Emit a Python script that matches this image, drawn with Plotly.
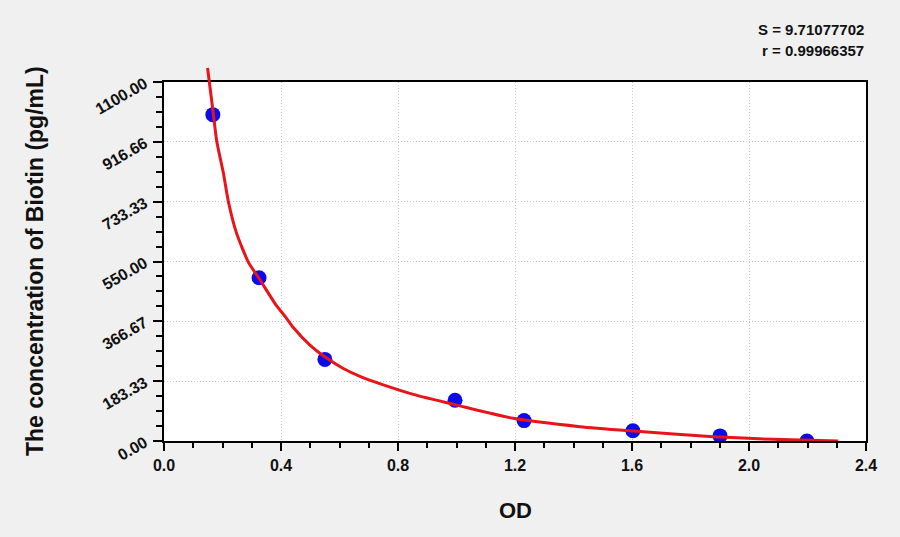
import plotly.graph_objects as go

# standard points (OD vs concentration)
od = [0.167, 0.325, 0.55, 0.995, 1.231, 1.603, 1.901, 2.198]
conc = [1000, 500, 250, 125, 62.5, 31.25, 15.63, 0]

# fitted curve
curve_od = [0.149, 0.169, 0.180, 0.203, 0.220, 0.248, 0.288, 0.328, 0.379, 0.419,
            0.442, 0.499, 0.556, 0.613, 0.670, 0.750, 0.852, 1.001, 1.194, 1.422,
            1.605, 1.878, 2.083, 2.305]
curve_conc = [1143, 1000, 920, 821, 734, 637, 549, 494, 422, 376,
              348, 294, 254, 222, 198, 172, 143, 110, 69.5, 44,
              30.7, 13.3, 5, 0]

y_ticks = [0, 183.33, 366.67, 550, 733.33, 916.66, 1100]
y_labels = ["0.00", "183.33", "366.67", "550.00", "733.33", "916.66", "1100.00"]
x_ticks = [0, 0.4, 0.8, 1.2, 1.6, 2.0, 2.4]
x_labels = ["0.0", "0.4", "0.8", "1.2", "1.6", "2.0", "2.4"]

stats = ["S = 9.71077702", "r = 0.99966357"]

FONT = "Liberation Sans, Arial, sans-serif"
frac = 359 / 379  # frame height inside the drawing area

fig = go.Figure()
fig.add_trace(go.Scatter(x=od, y=conc, mode="markers",
                         marker=dict(color="#0c0ce8", size=15),
                         xaxis="x", yaxis="y", showlegend=False))
# curve on a taller twin axis so it may run above the frame
fig.add_trace(go.Scatter(x=curve_od, y=curve_conc, mode="lines",
                         line=dict(color="#e8141a", width=3, shape="spline", smoothing=0.6),
                         xaxis="x2", yaxis="y2", showlegend=False))

tick_font = dict(family=FONT, size=16, color="#111111", weight="bold")

fig.update_layout(
    width=900, height=537,
    margin=dict(l=164, r=34, t=62, b=96),
    paper_bgcolor="#f0f0f0",
    plot_bgcolor="rgba(0,0,0,0)",
    xaxis=dict(range=[0, 2.4], domain=[0, 1], anchor="y",
               tickmode="array", tickvals=x_ticks, ticktext=x_labels,
               ticks="outside", ticklen=8, tickwidth=1.5, tickcolor="black",
               minor=dict(tickmode="linear", tick0=0, dtick=0.1, ticks="outside",
                          ticklen=5, tickwidth=1.5, tickcolor="black", showgrid=False),
               showline=True, linecolor="black", linewidth=2, mirror=True,
               showgrid=True, gridcolor="#c8c8c8", griddash="1px,2px", gridwidth=1,
               zeroline=False, tickfont=tick_font, ticklabelstandoff=1),
    yaxis=dict(range=[0, 1100], domain=[0, frac], anchor="x",
               tickmode="array", tickvals=y_ticks, ticktext=y_labels,
               ticks="outside", ticklen=9, tickwidth=1.5, tickcolor="black",
               minor=dict(tickmode="linear", tick0=0, dtick=1100 / 24, ticks="outside",
                          ticklen=6, tickwidth=1.5, tickcolor="black", showgrid=False),
               showline=True, linecolor="black", linewidth=2, mirror=True,
               showgrid=True, gridcolor="#c8c8c8", griddash="1px,2px", gridwidth=1,
               zeroline=False, tickangle=-30, tickfont=tick_font, ticklabelstandoff=5),
    xaxis2=dict(range=[0, 2.4], domain=[0, 1], anchor="y2", visible=False),
    yaxis2=dict(range=[0, 1100 / frac], domain=[0, 1], anchor="x2", visible=False),
    shapes=[dict(type="rect", xref="x", yref="y", x0=0, x1=2.4, y0=0, y1=1100,
                 fillcolor="white", line=dict(width=0), layer="below")],
)

fig.add_annotation(text="The concentration of Biotin (pg/mL)", textangle=-90,
                   xref="paper", yref="paper", x=(35 - 164) / 702, y=(441 - 261) / 379,
                   xanchor="center", yanchor="middle", showarrow=False,
                   font=dict(family=FONT, size=23, color="#111111", weight="bold"))
fig.add_annotation(text="OD", xref="paper", yref="paper", x=0.5, y=(441 - 510) / 379,
                   xanchor="center", yanchor="middle", showarrow=False,
                   font=dict(family=FONT, size=22, color="#111111", weight="bold"))
for i, s in enumerate(stats):
    fig.add_annotation(text=s, xref="paper", yref="paper", x=1.0,
                       y=(441 - (30 + 20 * i)) / 379, xanchor="right", yanchor="middle",
                       showarrow=False,
                       font=dict(family=FONT, size=15, color="#111111", weight="bold"))

fig.write_html("out.html", config={"displayModeBar": False},
               post_script="document.body.style.margin='0';")
